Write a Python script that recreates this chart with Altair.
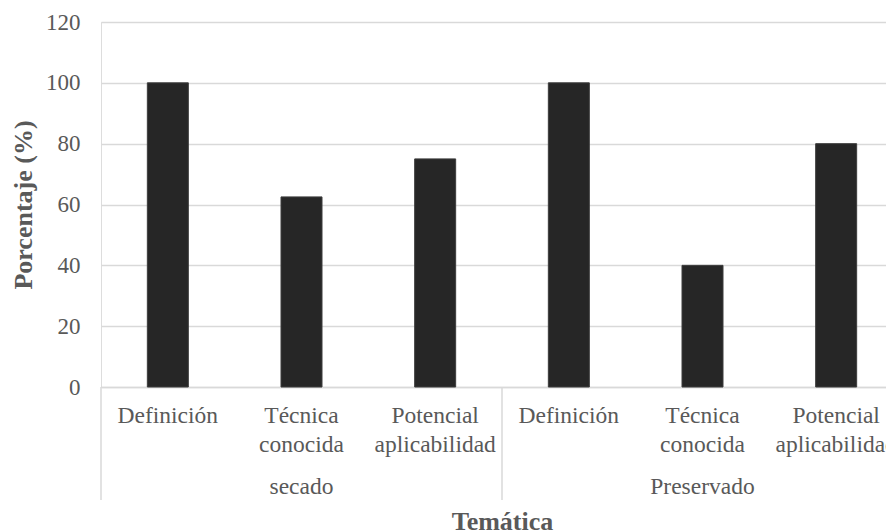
import altair as alt
import pandas as pd

# ---- data ----
groups = ["secado", "secado", "secado", "Preservado", "Preservado", "Preservado"]
categories = ["Definición", "Técnica\nconocida", "Potencial\naplicabilidad",
              "Definición", "Técnica\nconocida", "Potencial\naplicabilidad"]
values = [100, 62.5, 75, 100, 40, 80]
group_names = ["secado", "Preservado"]
group_start = [0, 3]
group_size = [3, 3]
y_ticks = [0, 20, 40, 60, 80, 100, 120]

FONT = "Liberation Serif"
GREY = "#595959"
GRID = "#d9d9d9"
FS = 23.5
W, H = 802, 365

bars_df = pd.DataFrame({"idx": list(range(len(values))), "grupo": groups,
                        "cat": categories, "valor": values})
grp_df = pd.DataFrame({"grupo": group_names, "start": group_start, "size": group_size})
bounds = sorted(set(group_start + [s + n for s, n in zip(group_start, group_size)]))
bnd_df = pd.DataFrame({"b": bounds})

xscale = alt.Scale(domain=[0, len(values)], nice=False, zero=False, padding=0)
yscale = alt.Scale(domain=[0, 120], nice=False)

base = alt.Chart(bars_df).transform_calculate(pos="datum.idx + 0.5")

bars = base.mark_bar(size=41, color="#262626", stroke="#3d3d3d", strokeWidth=1).encode(
    x=alt.X("pos:Q", scale=xscale,
            axis=alt.Axis(labels=False, ticks=False, grid=False, domain=True,
                          domainColor=GRID, domainWidth=1.5,
                          title="Temática", titleFont=FONT, titleFontSize=26,
                          titleFontWeight="bold", titleColor=GREY,
                          titleBaseline="alphabetic", titleY=142, titleX=401,
                          titleAlign="center")),
    y=alt.Y("valor:Q", scale=yscale,
            axis=alt.Axis(values=y_ticks, ticks=False, domain=False, grid=True,
                          gridColor=GRID, gridWidth=1.5, labelFont=FONT,
                          labelFontSize=23, labelColor=GREY, labelPadding=21,
                          title="Porcentaje (%)", titleFont=FONT, titleFontSize=26,
                          titleFontWeight="bold", titleColor=GREY, titlePadding=9)),
)

cat_labels = base.mark_text(font=FONT, fontSize=FS, color=GREY, baseline="alphabetic",
                            align="center", lineBreak="\n", lineHeight=29).encode(
    x=alt.X("pos:Q", scale=xscale),
    y=alt.value(401),
    text="cat:N",
)

grp_labels = alt.Chart(grp_df).transform_calculate(
    center="datum.start + datum.size / 2"
).mark_text(font=FONT, fontSize=FS, color=GREY, baseline="alphabetic", align="center").encode(
    x=alt.X("center:Q", scale=xscale),
    y=alt.value(472),
    text="grupo:N",
)

dividers = alt.Chart(bnd_df).mark_rule(color=GRID, strokeWidth=1.5).encode(
    x=alt.X("b:Q", scale=xscale),
    y=alt.value(H),
    y2=alt.value(478),
)

chart = alt.layer(bars, dividers, cat_labels, grp_labels).properties(
    width=W, height=H,
    autosize=alt.AutoSizeParams(type="none"),
    padding={"left": 93, "top": 14, "right": -17, "bottom": 144},
).configure_view(stroke=None).configure(background="white")

chart.save("out.html", embed_options={"renderer": "svg", "actions": False})
